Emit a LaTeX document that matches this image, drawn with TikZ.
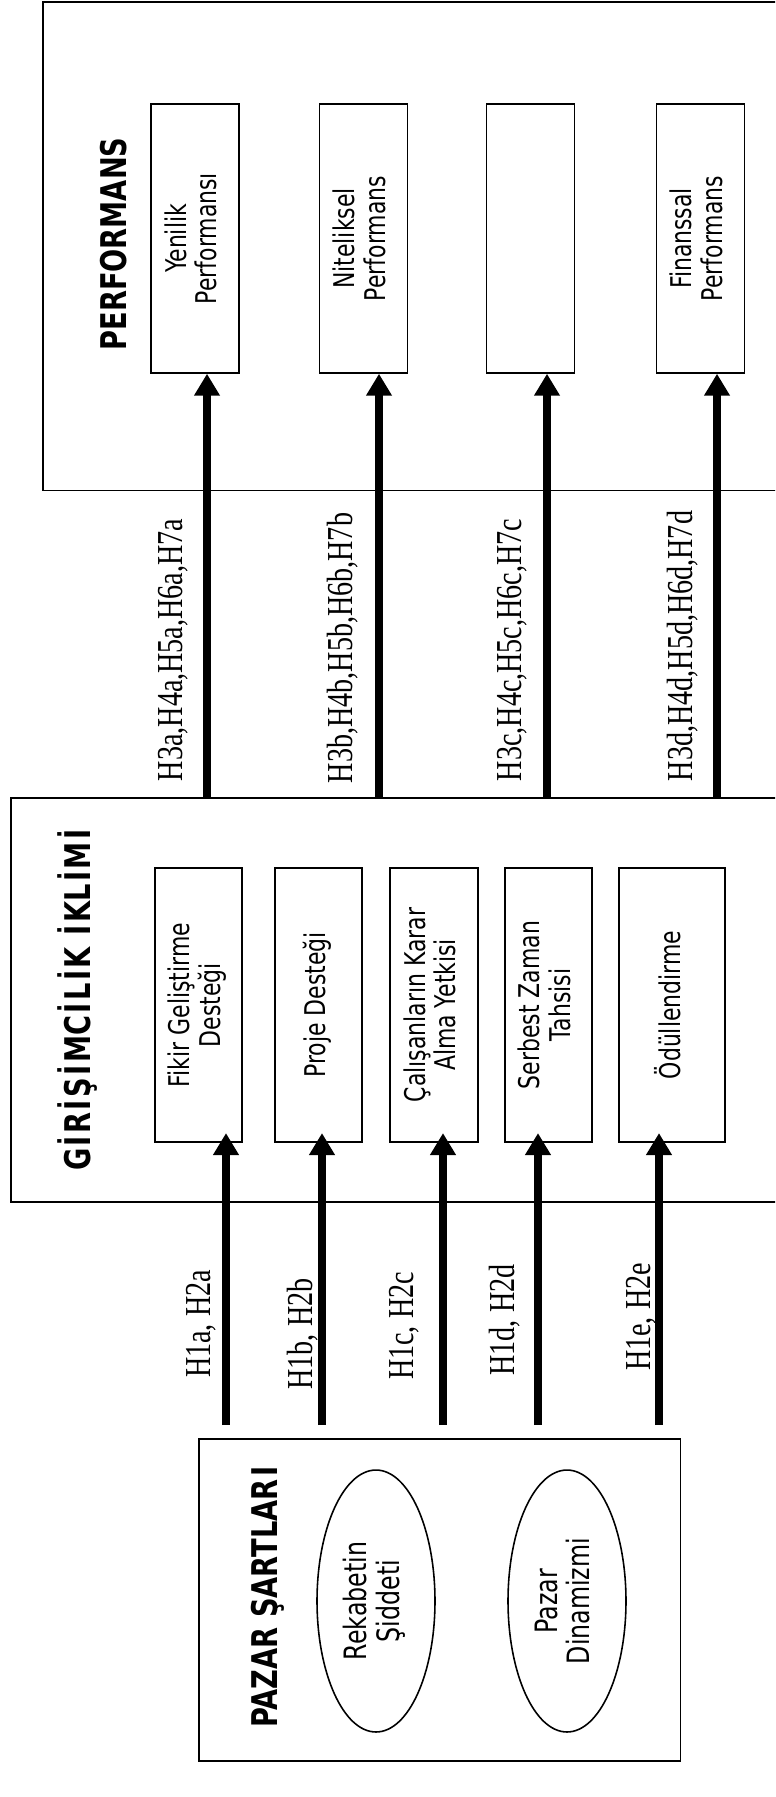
\documentclass[tikz,border=0pt]{standalone}
\usepackage{fontspec}
\setmainfont{Liberation Serif}
\setsansfont{DejaVu Sans}
\usepackage{graphicx}
\usepackage{tikz}
\usetikzlibrary{arrows.meta,shapes.geometric}
\newcommand\wideI[1]{\kern.09em#1\kern.09em}
\newcommand\tall[1]{\scalebox{1}[1.3]{#1}}
\newcommand\vtext[1]{\rotatebox{90}{\tall{\begin{tabular}{@{}c@{}}#1\end{tabular}}}}

\begin{document}
\begin{tikzpicture}[x=0.02cm,y=-0.02cm,
  frame/.style={draw,line width=0.9pt,anchor=north west,inner sep=0pt},
  box/.style={draw,line width=0.9pt,inner sep=0pt,font=\sffamily\fontsize{12.5}{13}\selectfont},
  conn/.style={-{Triangle[length=12.5pt,width=14pt]},line width=4.5pt},
  ttl/.style={rotate=90,font=\sffamily\bfseries\fontsize{15.5}{18}\selectfont},
  hyp/.style={rotate=90,font=\fontsize{16}{19}\selectfont}]
\useasboundingbox (0,0) rectangle (775,1797);
\clip (0,0) rectangle (775,1797);

\node[frame,minimum width=15.2cm,minimum height=9.78cm] (perf) at (42,1) {};
\node[ttl] (perft) at (114,244) {\tall{PERFORMANS}};
\node[box,minimum width=1.76cm,minimum height=5.38cm] (p1) at (195,238.5) {\vtext{Yenilik\\Performansı}};
\node[box,minimum width=1.76cm,minimum height=5.38cm] (p2) at (363.5,238.5) {\vtext{Niteliksel\\Performans}};
\node[box,minimum width=1.76cm,minimum height=5.38cm] (p3) at (530.5,238.5) {};
\node[box,minimum width=1.76cm,minimum height=5.38cm] (p4) at (700.5,238.5) {\vtext{Finanssal\\Performans}};

\node[frame,minimum width=15.8cm,minimum height=8.08cm] (gir) at (10,797) {};
\node[ttl] (girt) at (78,999) {\tall{G\wideI{İ}R\wideI{İ}Ş\wideI{İ}MC\wideI{İ}L\wideI{İ}K \wideI{İ}KL\wideI{İ}M\wideI{İ}}};
\node[box,minimum width=1.74cm,minimum height=5.48cm] (g1) at (198.5,1005) {\vtext{Fikir Geliştirme\\Desteği}};
\node[box,minimum width=1.74cm,minimum height=5.48cm] (g2) at (318.5,1005) {\vtext{Proje Desteği}};
\node[box,minimum width=1.76cm,minimum height=5.48cm] (g3) at (434,1005) {\vtext{Çalışanların Karar\\Alma Yetkisi}};
\node[box,minimum width=1.74cm,minimum height=5.48cm] (g4) at (548.5,1005) {\vtext{Serbest Zaman\\Tahsisi}};
\node[box,minimum width=2.12cm,minimum height=5.48cm] (g5) at (672,1005) {\vtext{Ödüllendirme}};

\node[frame,minimum width=9.64cm,minimum height=6.44cm] (pazar) at (198,1438) {};
\node[ttl] (pazart) at (268,1596) {\tall{PAZAR ŞARTLAR\wideI{I}}};
\node[box,ellipse,minimum width=2.36cm,minimum height=5.24cm,font=\sffamily\fontsize{13.5}{13.2}\selectfont] (e1) at (376,1601) {\vtext{Rekabetin\\Şiddeti}};
\node[box,ellipse,minimum width=2.36cm,minimum height=5.24cm,font=\sffamily\fontsize{13.5}{13.2}\selectfont] (e2) at (567,1601) {\vtext{Pazar\\Dinamizmi}};

\foreach \n/\x in {1/207,2/379,3/547,4/717} \coordinate (u\n) at (\x,0);
\foreach \n in {1,...,4} \draw[conn] (gir.north -| u\n) -- (u\n |- p\n.south);
\foreach \n/\x in {1/226,2/322,3/443,4/538,5/659} \coordinate (d\n) at (\x,1425);
\foreach \n in {1,...,5} \draw[conn,shorten >=-5.5pt] (d\n) -- (d\n |- g\n.south);

\node[hyp] (h1) at (173,650) {\tall{H3a,H4a,H5a,H6a,H7a}};
\node[hyp] (h2) at (343,648) {\tall{H3b,H4b,H5b,H6b,H7b}};
\node[hyp] (h3) at (512,650) {\tall{H3c,H4c,H5c,H6c,H7c}};
\node[hyp] (h4) at (683,646) {\tall{H3d,H4d,H5d,H6d,H7d}};

\node[hyp] (k1) at (201,1324) {\tall{H1a, H2a}};
\node[hyp] (k2) at (303,1334) {\tall{H1b, H2b}};
\node[hyp] (k3) at (404,1326) {\tall{H1c, H2c}};
\node[hyp] (k4) at (505,1320) {\tall{H1d, H2d}};
\node[hyp] (k5) at (641,1317) {\tall{H1e, H2e}};
\end{tikzpicture}
\end{document}
